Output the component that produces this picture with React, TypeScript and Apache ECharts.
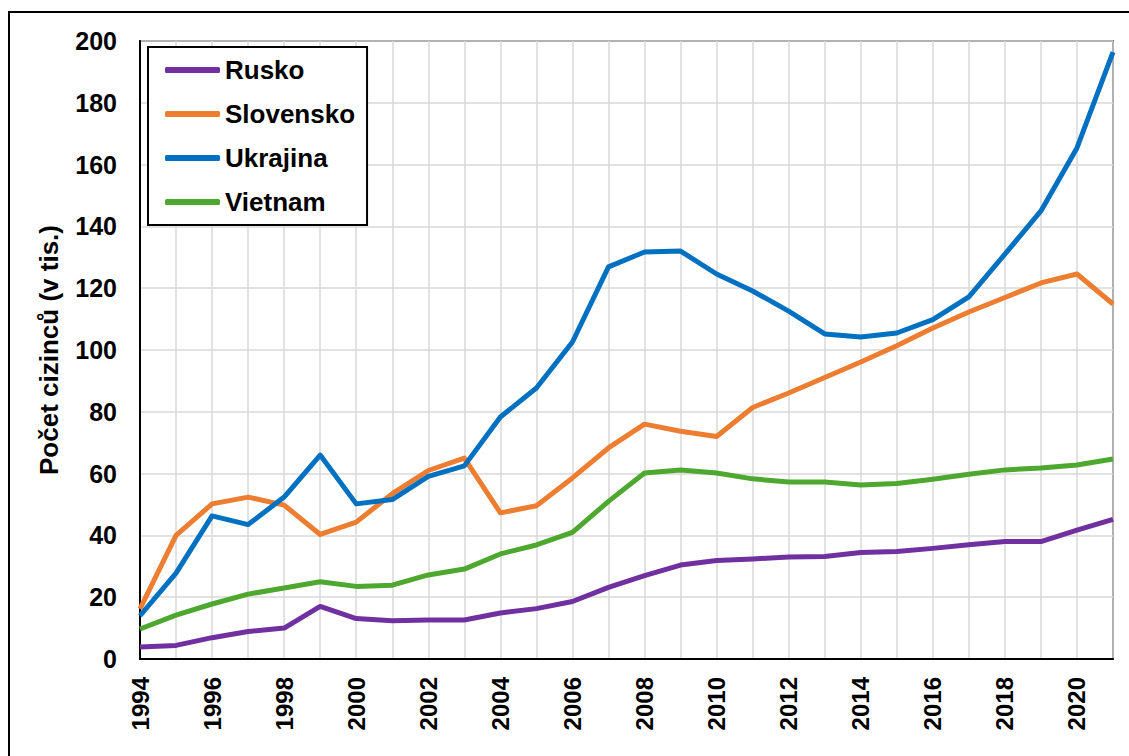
import React, { useEffect, useRef } from "react";
import * as echarts from "echarts";

const years = [
  "1994", "1995", "1996", "1997", "1998", "1999", "2000", "2001", "2002", "2003",
  "2004", "2005", "2006", "2007", "2008", "2009", "2010", "2011", "2012", "2013",
  "2014", "2015", "2016", "2017", "2018", "2019", "2020", "2021",
];

const rusko = [
  3.9, 4.4, 6.9, 8.9, 10.0, 17.0, 13.1, 12.4, 12.6, 12.6,
  14.9, 16.3, 18.6, 23.2, 27.0, 30.4, 31.9, 32.4, 33.0, 33.2,
  34.5, 34.8, 35.8, 37.0, 38.0, 38.0, 41.7, 45.2,
];

const slovensko = [
  16.2, 40.0, 50.2, 52.4, 49.8, 40.3, 44.3, 53.5, 61.0, 65.0,
  47.3, 49.6, 58.6, 68.3, 76.0, 73.7, 72.0, 81.4, 86.1, 91.1,
  96.1, 101.4, 107.1, 112.3, 117.0, 121.7, 124.6, 114.9,
];

const ukrajina = [
  14.0, 27.8, 46.3, 43.5, 52.4, 66.0, 50.2, 51.6, 59.1, 62.5,
  78.3, 87.7, 102.6, 126.9, 131.7, 132.0, 124.6, 119.1, 112.6, 105.2,
  104.2, 105.5, 109.8, 117.2, 131.0, 145.0, 165.4, 196.4,
];

const vietnam = [
  9.7, 14.2, 17.8, 21.0, 23.0, 25.0, 23.5, 23.9, 27.2, 29.1,
  34.0, 36.9, 41.0, 51.0, 60.2, 61.2, 60.2, 58.3, 57.3, 57.3,
  56.3, 56.8, 58.2, 59.8, 61.2, 61.8, 62.8, 64.7,
];

const seriesNames = ["Rusko", "Slovensko", "Ukrajina", "Vietnam"];
const seriesColors = ["#7030A0", "#ED7D31", "#0070C0", "#4EA72E"];
const seriesData = [rusko, slovensko, ukrajina, vietnam];

const yAxisTitle = "Počet cizinců (v tis.)";

const FONT = "'Liberation Sans', Arial, sans-serif";

export default function App() {
  const ref = useRef<HTMLDivElement>(null);

  useEffect(() => {
    if (!ref.current) return;
    const chart = echarts.init(ref.current, null, { renderer: "svg" });
    chart.setOption({
      animation: false,
      backgroundColor: "#ffffff",
      textStyle: { fontFamily: FONT },
      graphic: [
        {
          type: "rect",
          shape: { x: 9, y: 12, width: 1200, height: 800 },
          style: { fill: "none", stroke: "#000", lineWidth: 2 },
          z: 0,
        },
      ],
      grid: {
        left: 140,
        top: 41,
        width: 973,
        height: 618,
        show: true,
        borderColor: "#000",
        borderWidth: 1.5,
        backgroundColor: "transparent",
      },
      legend: {
        orient: "vertical",
        left: 148,
        top: 47,
        padding: [10, 12, 10, 17],
        borderColor: "#000",
        borderWidth: 2,
        backgroundColor: "#fff",
        itemWidth: 55,
        itemHeight: 6,
        itemGap: 18,
        icon: "roundRect",
        textStyle: {
          fontFamily: FONT,
          fontSize: 26,
          fontWeight: "bold",
          color: "#000",
          lineHeight: 26,
        },
        data: seriesNames,
      },
      xAxis: {
        type: "category",
        data: years,
        boundaryGap: false,
        axisLine: { lineStyle: { color: "#000", width: 2 } },
        axisTick: { show: false },
        axisLabel: {
          interval: 1,
          rotate: 90,
          margin: 18,
          fontFamily: FONT,
          fontSize: 24,
          fontWeight: "bold",
          color: "#000",
        },
        splitLine: {
          show: true,
          interval: 0,
          lineStyle: { color: "#d9d9d9", width: 1.5 },
        },
      },
      yAxis: {
        type: "value",
        min: 0,
        max: 200,
        interval: 20,
        name: yAxisTitle,
        nameLocation: "middle",
        nameGap: 78,
        nameTextStyle: {
          fontFamily: FONT,
          fontSize: 26,
          fontWeight: "bold",
          color: "#000",
        },
        axisLine: { show: true, lineStyle: { color: "#000", width: 2 } },
        axisTick: { show: false },
        axisLabel: {
          margin: 23,
          fontFamily: FONT,
          fontSize: 25,
          fontWeight: "bold",
          color: "#000",
        },
        splitLine: { show: true, lineStyle: { color: "#d9d9d9", width: 1.5 } },
      },
      series: seriesNames.map((name, i) => ({
        name,
        type: "line",
        data: seriesData[i],
        color: seriesColors[i],
        symbol: "none",
        showSymbol: false,
        lineStyle: { color: seriesColors[i], width: 5, join: "round" },
        z: 3 + i,
      })),
    });
    return () => chart.dispose();
  }, []);

  return (
    <div
      ref={ref}
      style={{ position: "fixed", left: 0, top: 0, width: 1129, height: 756 }}
    />
  );
}
